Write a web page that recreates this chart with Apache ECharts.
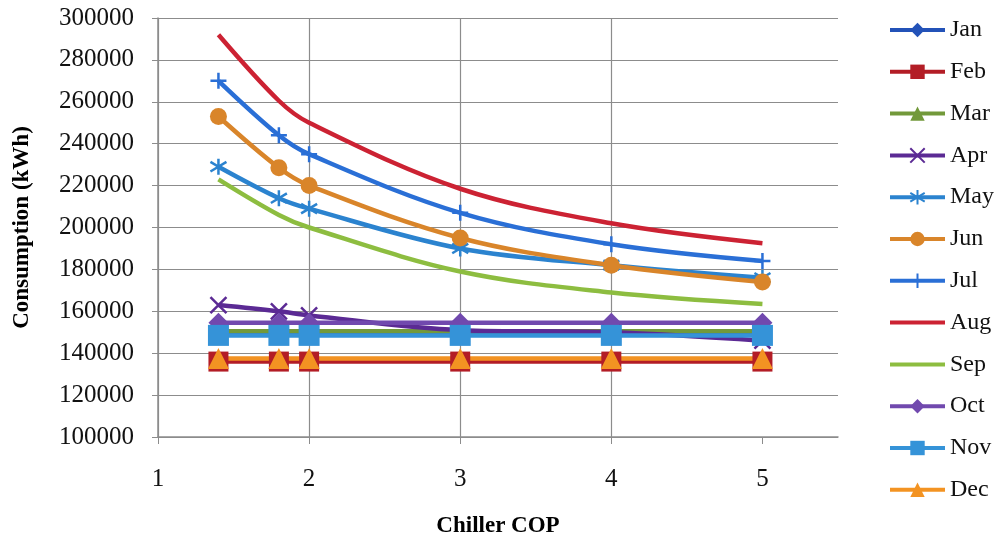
<!DOCTYPE html>
<html>
<head>
<meta charset="utf-8">
<title>Chiller COP vs Consumption</title>
<script src="https://cdn.jsdelivr.net/npm/echarts@6/dist/echarts.min.js"></script>
<style>
  html, body { margin: 0; padding: 0; background: #fff; }
  #main { width: 1000px; height: 543px; }
</style>
</head>
<body>
<div id="main"></div>
<script>
// chiller COP values (x) and monthly consumption (kWh)
var cop = [1.4, 1.8, 2, 3, 4, 5];
var months = ['Jan', 'Feb', 'Mar', 'Apr', 'May', 'Jun', 'Jul', 'Aug', 'Sep', 'Oct', 'Nov', 'Dec'];
var jan = [149000, 149000, 149000, 149000, 149000, 149000];
var feb = [136000, 136000, 136000, 136000, 136000, 136000];
var mar = [150500, 150500, 150500, 150500, 150500, 150500];
var apr = [163000, 160000, 158000, 151000, 150000, 146000];
var may = [229000, 214000, 209000, 190000, 182000, 176000];
var jun = [253000, 228500, 220000, 195000, 182000, 174000];
var jul = [270000, 244000, 235000, 207000, 192000, 184000];
var aug = [292000, 260500, 250000, 218500, 202000, 192500];
var sep = [223000, 206000, 200000, 179000, 169000, 163500];
var oct = [154500, 154500, 154500, 154500, 154500, 154500];
var nov = [148500, 148500, 148500, 148500, 148500, 148500];
var dec = [137500, 137500, 137500, 137500, 137500, 137500];
var xTicks = [1, 2, 3, 4, 5];

var allData = [jan, feb, mar, apr, may, jun, jul, aug, sep, oct, nov, dec];
var colors = ['#2352b8', '#b31d26', '#72993a', '#5b2a94', '#2b83cf', '#d9852a',
              '#2a6fd6', '#cc2233', '#8dbd40', '#7149ae', '#3593d8', '#f39322'];
var xMark = 'path://M0,0L10,10M10,0L0,10';
var starMark = 'path://M5,0L5,10M0,2L10,8M0,8L10,2';
var plusMark = 'path://M5,0L5,10M0,5L10,5';
var symbols = ['diamond', 'rect', 'triangle', xMark, starMark, 'circle',
               plusMark, 'none', 'none', 'diamond', 'rect', 'triangle'];
var sizes = [18, 20, 20, 16, 16, 17, 16, 0, 0, 20, 21, 21];

function pairs(ys) {
  var out = [];
  for (var i = 0; i < cop.length; i++) out.push([cop[i], ys[i]]);
  return out;
}

var series = [];
var legendData = [];
for (var i = 0; i < months.length; i++) {
  var stroke = (symbols[i].indexOf('path://') === 0);
  series.push({
    name: months[i],
    type: 'line',
    smooth: 0.35,
    data: pairs(allData[i]),
    symbol: symbols[i],
    symbolSize: sizes[i],
    lineStyle: { width: 4.5, color: colors[i] },
    itemStyle: stroke ? { color: colors[i], borderColor: colors[i], borderWidth: 2.5 } : { color: colors[i] },
    emphasis: { disabled: true }
  });
  if (symbols[i] === 'none') {
    legendData.push({ name: months[i], itemStyle: { opacity: 0 } });
  } else {
    legendData.push({ name: months[i] });
  }
}

var myChart = echarts.init(document.getElementById('main'));
var option = {
  animation: false,
  backgroundColor: '#fff',
  textStyle: { fontFamily: 'Liberation Serif' },
  grid: { left: 158, right: 162, top: 18, bottom: 105 },
  legend: {
    orient: 'vertical',
    left: 883,
    top: 13,
    itemWidth: 55,
    itemHeight: 18,
    itemGap: 17.8,
    data: legendData,
    lineStyle: { width: 4 },
    textStyle: { fontFamily: 'Liberation Serif', fontSize: 24, color: '#111', lineHeight: 23 }
  },
  xAxis: {
    type: 'value',
    min: 1,
    max: 5.5,
    interval: 1,
    name: 'Chiller COP',
    nameLocation: 'middle',
    nameGap: 78,
    nameTextStyle: { fontFamily: 'Liberation Serif', fontSize: 23, fontWeight: 'bold', color: '#000' },
    axisLine: { show: true, lineStyle: { color: '#8c8c8c', width: 1.5 } },
    axisTick: { show: true, length: 7, customValues: xTicks, lineStyle: { color: '#8c8c8c' } },
    axisLabel: { customValues: xTicks, margin: 30, fontSize: 25, color: '#111', fontFamily: 'Liberation Serif' },
    splitLine: { show: true, showMaxLine: false, lineStyle: { color: '#8c8c8c', width: 1.2 } }
  },
  yAxis: {
    type: 'value',
    min: 100000,
    max: 300000,
    interval: 20000,
    name: 'Consumption (kWh)',
    nameLocation: 'middle',
    nameGap: 124,
    nameTextStyle: { fontFamily: 'Liberation Serif', fontSize: 23, fontWeight: 'bold', color: '#000' },
    axisLine: { show: true, lineStyle: { color: '#8c8c8c', width: 1.5 } },
    axisTick: { show: true, length: 6, lineStyle: { color: '#8c8c8c' } },
    axisLabel: {
      margin: 24, fontSize: 25, color: '#111', fontFamily: 'Liberation Serif',
      formatter: function (v) { return String(v); }
    },
    splitLine: { show: true, lineStyle: { color: '#8c8c8c', width: 1.2 } }
  },
  series: series
};
myChart.setOption(option);
</script>
</body>
</html>
